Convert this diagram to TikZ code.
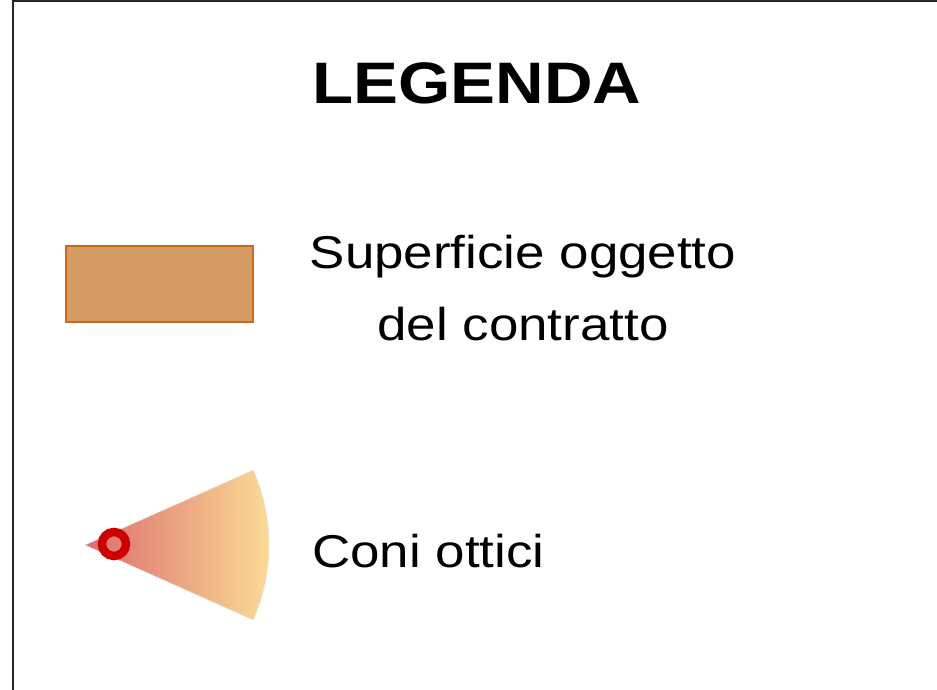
\documentclass[tikz,border=0pt]{standalone}
\usepackage{fontspec}
\newfontfamily\legendfont[FakeStretch=1.15]{Liberation Sans}
\usepackage{tikz}
\definecolor{superficie}{RGB}{212,156,98}
\definecolor{superficiebordo}{RGB}{196,108,28}
\definecolor{conorosso}{RGB}{220,108,110}
\definecolor{conogiallo}{RGB}{252,222,150}
\definecolor{occhio}{RGB}{204,0,0}
\tikzset{
  titolo/.style={font=\legendfont\bfseries\fontsize{58.5}{70}\selectfont, inner sep=0pt, anchor=base},
  voce/.style={font=\legendfont\fontsize{46}{72}\selectfont, inner sep=0pt, anchor=base, align=center},
  cornice/.style={line width=2pt, color=black!85},
}

\begin{document}
\begin{tikzpicture}[x=1pt, y=-1pt]
			%%%%% START %%%%%
			\useasboundingbox (0, 0) rectangle (937, 690);
			
			% cornice
			\draw[cornice] (12.5, 695) -- (12.5, 1.5) -- (945, 1.5);
			
			\node[titolo] (legenda) at (477, 104) {LEGENDA};
			
			% superficie
			\draw[fill=superficie, draw=superficiebordo, line width=1.4pt] (66, 246) rectangle (253, 322);
			\node[voce] (sup) at (523, 340) {Superficie oggetto\\del contratto};
			
			% cono ottico
			\shade[left color=conorosso, right color=conogiallo, draw=black!12, line width=0.5pt]
				(85, 545) -- ++(-24:184) arc (-24:24:184) -- cycle;
			\draw[occhio, line width=8.5pt] (114, 544) circle (12);
			\node[voce, anchor=base west] (coni) at (312, 567) {Coni ottici};
			
			%%%%% END %%%%%
		\end{tikzpicture}
\end{document}
